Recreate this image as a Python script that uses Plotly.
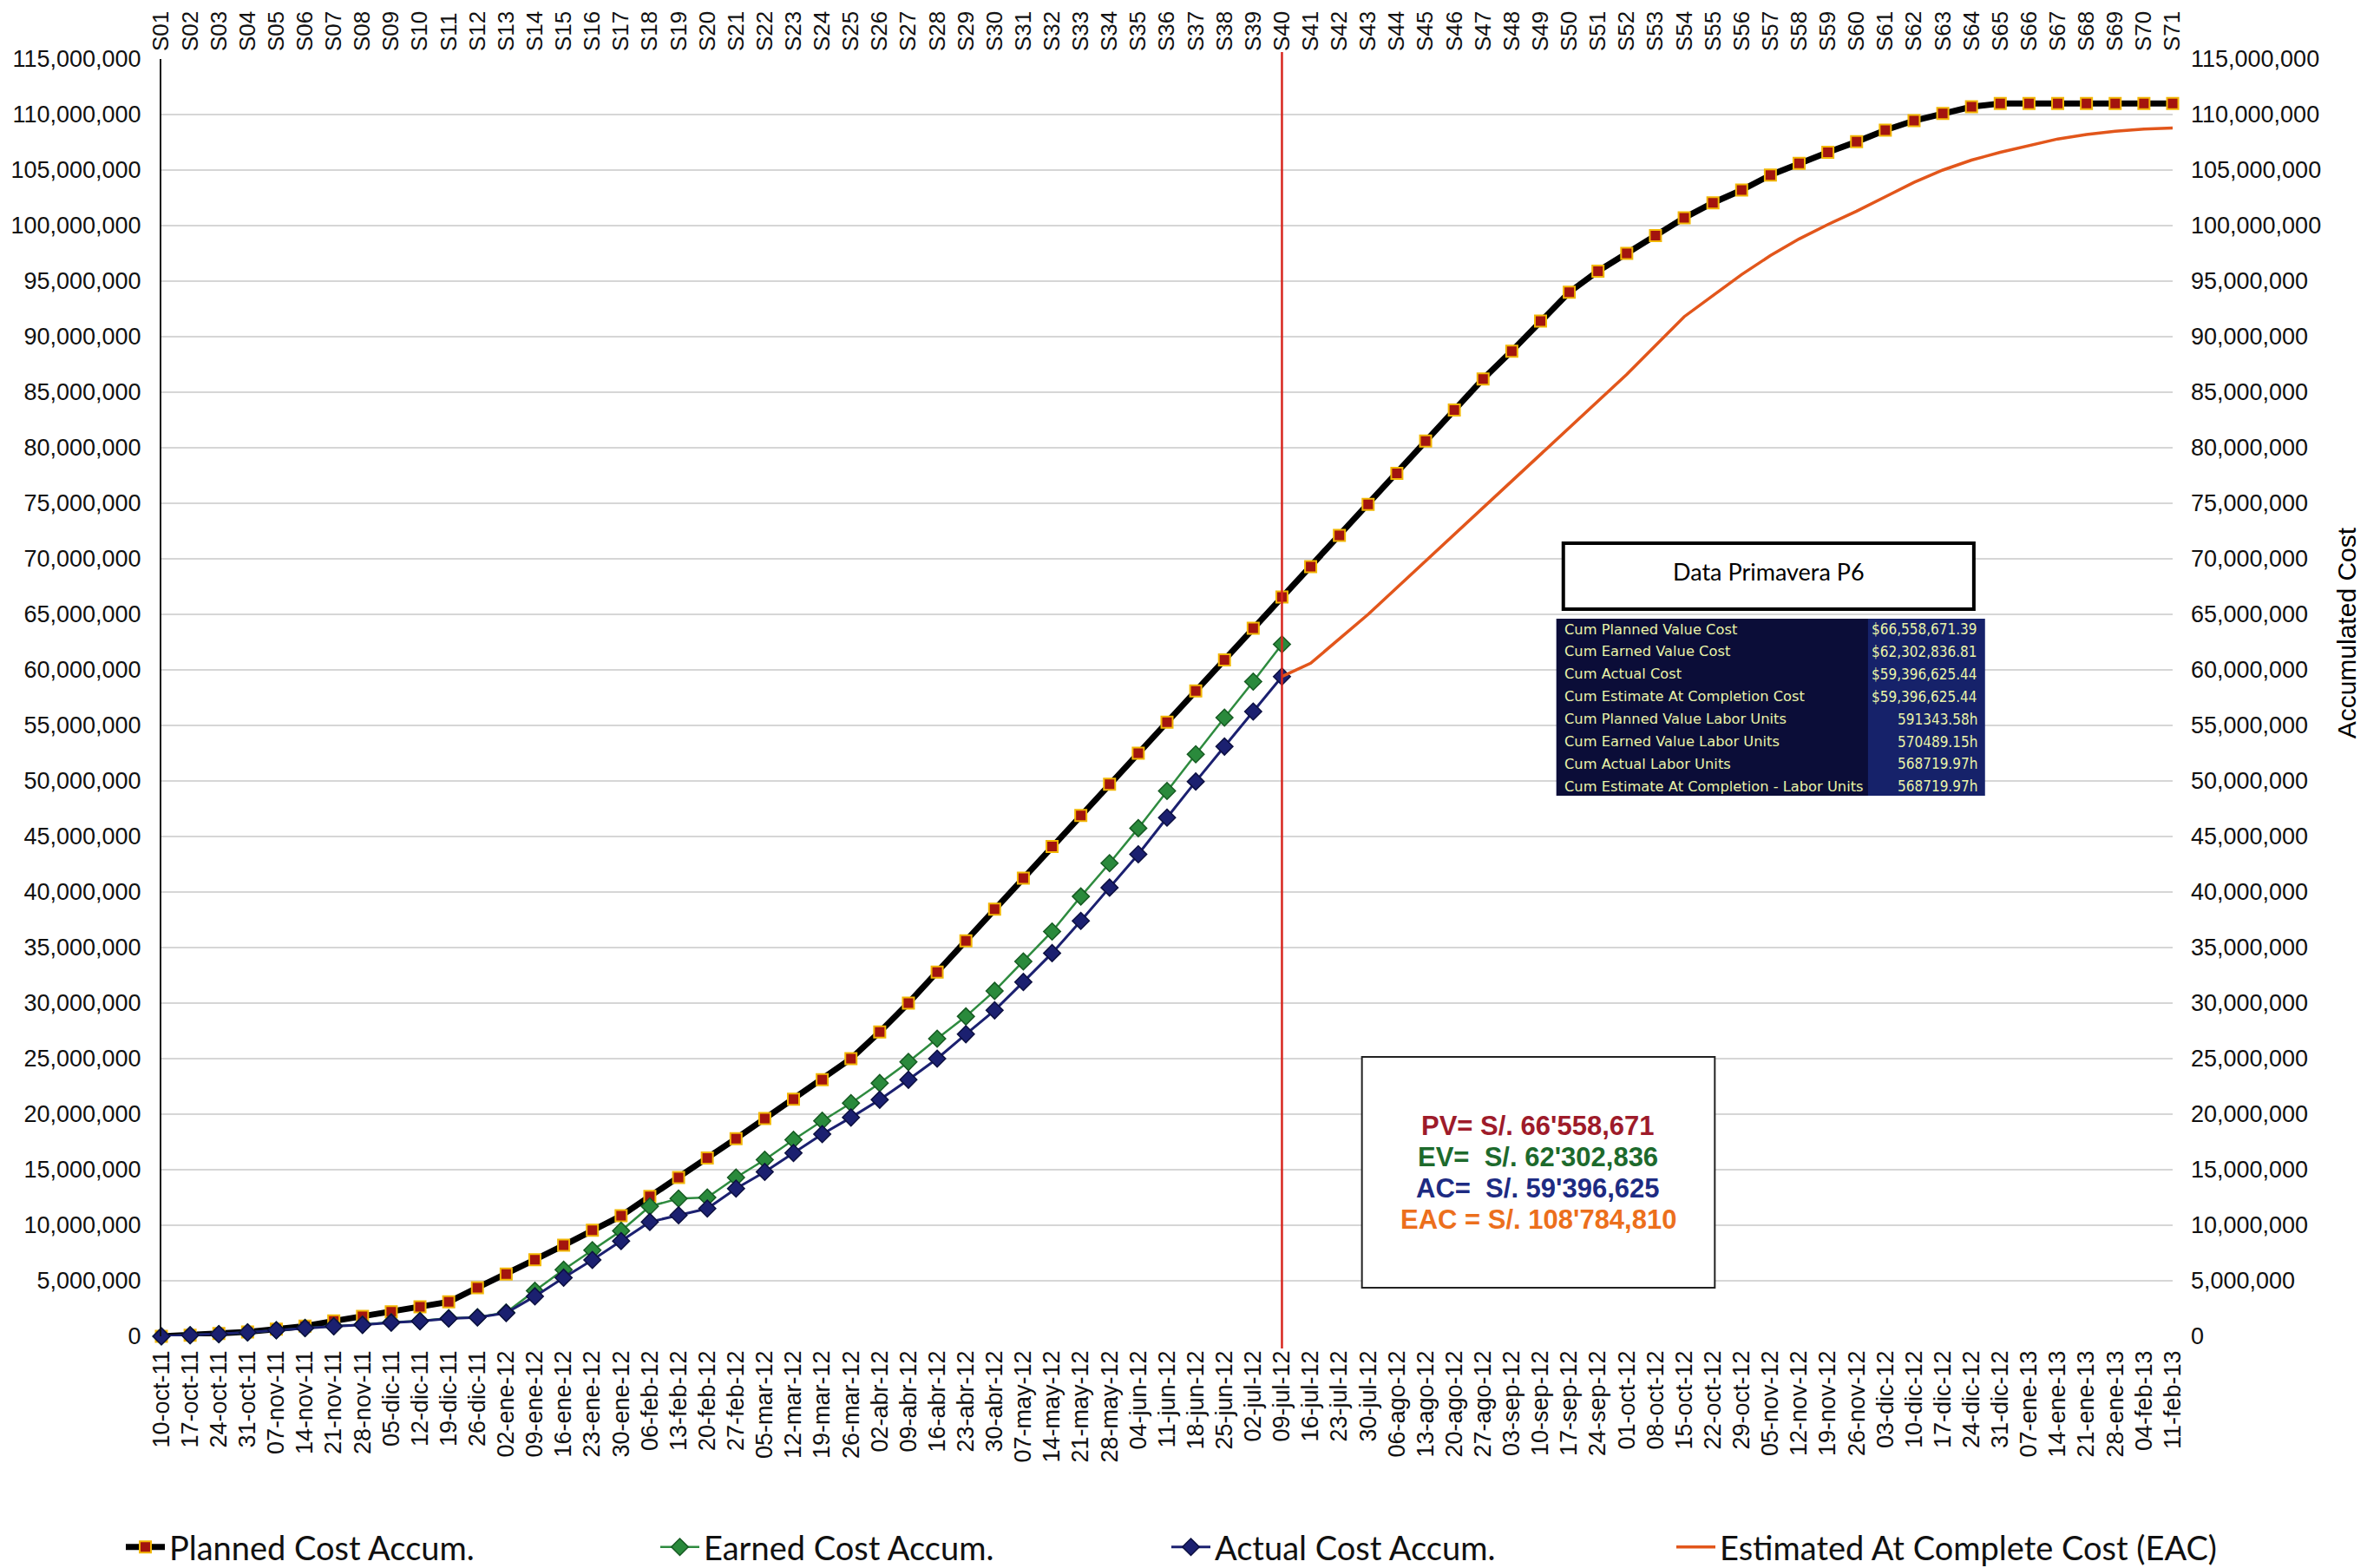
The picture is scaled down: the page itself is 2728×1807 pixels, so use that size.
import plotly.graph_objects as go

# ---------------- data ----------------
dates = ["10-oct-11", "17-oct-11", "24-oct-11", "31-oct-11", "07-nov-11", "14-nov-11", "21-nov-11", "28-nov-11",
         "05-dic-11", "12-dic-11", "19-dic-11", "26-dic-11", "02-ene-12", "09-ene-12", "16-ene-12", "23-ene-12",
         "30-ene-12", "06-feb-12", "13-feb-12", "20-feb-12", "27-feb-12", "05-mar-12", "12-mar-12", "19-mar-12",
         "26-mar-12", "02-abr-12", "09-abr-12", "16-abr-12", "23-abr-12", "30-abr-12", "07-may-12", "14-may-12",
         "21-may-12", "28-may-12", "04-jun-12", "11-jun-12", "18-jun-12", "25-jun-12", "02-jul-12", "09-jul-12",
         "16-jul-12", "23-jul-12", "30-jul-12", "06-ago-12", "13-ago-12", "20-ago-12", "27-ago-12", "03-sep-12",
         "10-sep-12", "17-sep-12", "24-sep-12", "01-oct-12", "08-oct-12", "15-oct-12", "22-oct-12", "29-oct-12",
         "05-nov-12", "12-nov-12", "19-nov-12", "26-nov-12", "03-dic-12", "10-dic-12", "17-dic-12", "24-dic-12",
         "31-dic-12", "07-ene-13", "14-ene-13", "21-ene-13", "28-ene-13", "04-feb-13", "11-feb-13"]
week_labels = [f"S{i:02d}" for i in range(1, len(dates) + 1)]
data_date = "09-jul-12"

# values in millions
planned_m = [0, 0.1, 0.25, 0.4, 0.65, 0.92, 1.38, 1.8, 2.2, 2.65,
             3.1, 4.38, 5.6, 6.9, 8.2, 9.55, 10.85, 12.6, 14.3, 16.05,
             17.8, 19.6, 21.35, 23.1, 25.0, 27.4, 30.0, 32.8, 35.6, 38.45,
             41.25, 44.1, 46.9, 49.7, 52.5, 55.3, 58.1, 60.9, 63.75, 66.56,
             69.3, 72.1, 74.9, 77.7, 80.6, 83.4, 86.2, 88.7, 91.4, 94.0,
             95.9, 97.5, 99.1, 100.7, 102.05, 103.2, 104.55, 105.6, 106.6, 107.55,
             108.6, 109.45, 110.1, 110.7, 111.0, 111.0, 111.0, 111.0, 111.0, 111.0, 111.0]
earned_m = [0, 0.1, 0.2, 0.35, 0.55, 0.75, 0.92, 1.05, 1.26, 1.38,
            1.63, 1.72, 2.15, 4.1, 6.0, 7.75, 9.5, 11.7, 12.4, 12.5,
            14.3, 15.9, 17.7, 19.4, 21.0, 22.8, 24.7, 26.8, 28.8, 31.1,
            33.75, 36.45, 39.6, 42.6, 45.75, 49.1, 52.4, 55.7, 58.95, 62.30]
actual_m = [0, 0.1, 0.2, 0.35, 0.55, 0.74, 0.9, 1.03, 1.24, 1.36,
            1.6, 1.7, 2.1, 3.6, 5.28, 6.87, 8.57, 10.3, 10.9, 11.5,
            13.3, 14.8, 16.5, 18.2, 19.7, 21.3, 23.1, 25.0, 27.2, 29.35,
            31.9, 34.5, 37.4, 40.4, 43.4, 46.7, 49.95, 53.1, 56.25, 59.40]
eac_m = [59.40, 60.6, 62.8, 65.0, 67.4, 69.8, 72.2, 74.6, 77.0, 79.4, 81.8,
         84.2, 86.6, 89.2, 91.8, 93.7, 95.6, 97.3, 98.8, 100.1, 101.3,
         102.6, 103.9, 105.0, 105.9, 106.6, 107.2, 107.8, 108.2, 108.5, 108.7, 108.78]

table_labels = ["Cum Planned Value Cost", "Cum Earned Value Cost", "Cum Actual Cost",
                "Cum Estimate At Completion Cost", "Cum Planned Value Labor Units",
                "Cum Earned Value Labor Units", "Cum Actual Labor Units",
                "Cum Estimate At Completion - Labor Units"]
table_values = ["$66,558,671.39", "$62,302,836.81", "$59,396,625.44", "$59,396,625.44",
                "591343.58h", "570489.15h", "568719.97h", "568719.97h"]

summary_lines = ["PV= S/. 66'558,671", "EV=\u00a0\u00a0S/. 62'302,836",
                 "AC=\u00a0\u00a0S/. 59'396,625", "EAC = S/. 108'784,810"]
summary_colors = ["#9e1b2a", "#1d6a2c", "#1d2b82", "#ec6f1c"]

# ---------------- layout helpers ----------------
W, H = 2728, 1807
L, R, T, B = 167, 2504, 68, 1540


def pxx(x):
    return (x - L) / (R - L)


def pxy(y):
    return (B - y) / (B - T)


M = 1e6
n = len(dates)
idx = list(range(n))
status_i = dates.index(data_date)
planned = [v * M for v in planned_m]
earned = [v * M for v in earned_m] + [None] * (n - len(earned_m))
actual = [v * M for v in actual_m] + [None] * (n - len(actual_m))
eac = [None] * (n - len(eac_m)) + [v * M for v in eac_m]

FONT = "Liberation Sans, Arial, sans-serif"
LEGEND_FONT = "Lato, Open Sans, sans-serif"

fig = go.Figure()
fig.add_trace(go.Scatter(
    x=idx, y=planned, name="Planned Cost Accum.", mode="lines+markers", cliponaxis=False, legend="legend",
    showlegend=True,
    line=dict(color="#000000", width=7),
    marker=dict(symbol="square", size=13, color="#a3140e", line=dict(color="#f2b705", width=2))))
fig.add_trace(go.Scatter(
    x=idx, y=earned, name="Earned Cost Accum.", mode="lines+markers", cliponaxis=False, legend="legend2",
    showlegend=True,
    line=dict(color="#2e8b3f", width=2.5),
    marker=dict(symbol="diamond", size=15, color="#2a8a3c", line=dict(color="#165a22", width=1.5))))
fig.add_trace(go.Scatter(
    x=idx, y=actual, name="Actual Cost Accum.", mode="lines+markers", cliponaxis=False, legend="legend3",
    showlegend=True,
    line=dict(color="#1b2070", width=3),
    marker=dict(symbol="diamond", size=15, color="#1b2070", line=dict(color="#0c0f40", width=1.5))))
fig.add_trace(go.Scatter(
    x=idx, y=eac, name="Estimated At Complete Cost (EAC)", mode="lines", cliponaxis=False, legend="legend4",
    showlegend=True,
    line=dict(color="#e2561b", width=3.5), xaxis="x2", yaxis="y2"))

axis_common = dict(range=[0, n - 1], showgrid=False, zeroline=False, showline=False, ticks="",
                   tickmode="array", tickvals=idx, tickangle=-90)
yaxis_common = dict(range=[0, 115 * M], dtick=5 * M, tick0=0, tickformat=",", zeroline=False,
                    ticks="", tickfont=dict(family=FONT, size=27, color="#111"))

shapes = [
    # status date line
    dict(type="line", xref="x", yref="paper", x0=status_i, x1=status_i, y0=pxy(1554), y1=pxy(60),
         line=dict(color="#d8261e", width=2.5), layer="above"),
    # Data Primavera title box
    dict(type="rect", xref="paper", yref="paper", x0=pxx(1796), x1=pxx(2273), y0=pxy(702), y1=pxy(626),
         line=dict(color="#000", width=4), fillcolor="#ffffff", layer="above"),
    # P6 table backgrounds
    dict(type="rect", xref="paper", yref="paper", x0=pxx(1788), x1=pxx(2286), y0=pxy(917), y1=pxy(713),
         line=dict(width=0), fillcolor="#16226a", layer="above"),
    dict(type="rect", xref="paper", yref="paper", x0=pxx(1788), x1=pxx(2150), y0=pxy(917), y1=pxy(713),
         line=dict(width=0), fillcolor="#0b0d38", layer="above"),
    # summary box
    dict(type="rect", xref="paper", yref="paper", x0=pxx(1562), x1=pxx(1972), y0=pxy(1484), y1=pxy(1218),
         line=dict(color="#222", width=2), fillcolor="#ffffff", layer="above"),
]

annotations = [
    dict(text="Data Primavera P6", xref="paper", yref="paper", x=pxx(2035), y=pxy(658),
         xanchor="center", yanchor="middle",
         showarrow=False, font=dict(family="Lato, Open Sans, sans-serif", size=27, color="#000")),
    dict(text="Accumulated Cost", xref="paper", yref="paper", x=pxx(2706), y=pxy(729), textangle=-90,
         xanchor="center", yanchor="middle",
         showarrow=False, font=dict(family=FONT, size=30, color="#000")),
]
row_y0, row_dy = 725, 25.9
for k, (lab, val) in enumerate(zip(table_labels, table_values)):
    yy = pxy(row_y0 + k * row_dy)
    annotations.append(dict(text=lab, xref="paper", yref="paper", x=pxx(1795), y=yy, xanchor="left",
                            yanchor="middle", showarrow=False,
                            font=dict(family="DejaVu Sans, sans-serif", size=16.3, color="#e9f3a8")))
    annotations.append(dict(text=val, xref="paper", yref="paper", x=pxx(2279), y=yy, xanchor="right",
                            yanchor="middle", showarrow=False,
                            font=dict(family="DejaVu Sans Condensed, DejaVu Sans, sans-serif", size=17,
                                      color="#e9f3a8")))
sum_y0, sum_dy = 1297, 36.3
for k, (txt, col) in enumerate(zip(summary_lines, summary_colors)):
    annotations.append(dict(text=f"<b>{txt}</b>", xref="paper", yref="paper", x=pxx(1767),
                            y=pxy(sum_y0 + k * sum_dy), xanchor="center", yanchor="middle", showarrow=False,
                            font=dict(family=FONT, size=31, color=col)))


def legend_at(xpix):
    return dict(orientation="h", xref="container", yref="container", x=xpix / W, y=1 - 1783 / H,
                xanchor="left", yanchor="middle", itemwidth=45, visible=True,
                font=dict(family=LEGEND_FONT, size=38, color="#111"), bgcolor="rgba(0,0,0,0)")


fig.update_layout(
    width=W, height=H, autosize=False, showlegend=True,
    margin=dict(l=L, r=W - R, t=T, b=H - B, pad=0),
    paper_bgcolor="#ffffff", plot_bgcolor="#ffffff",
    font=dict(family=FONT, color="#111"),
    xaxis=dict(**axis_common, ticktext=dates, ticklabelstandoff=10,
               tickfont=dict(family=FONT, size=27, color="#111")),
    xaxis2=dict(**axis_common, ticktext=week_labels, side="top", overlaying="x", anchor="y2",
                ticklabelstandoff=8, tickfont=dict(family=FONT, size=26, color="#111")),
    yaxis=dict(**yaxis_common, showgrid=True, gridcolor="#d6d6d6", gridwidth=1.6,
               showline=True, linecolor="#111", linewidth=2, ticklabelstandoff=16),
    yaxis2=dict(**yaxis_common, showgrid=False, showline=False, side="right", overlaying="y",
                anchor="x2", ticklabelstandoff=20),
    legend=legend_at(140),
    legend2=legend_at(756),
    legend3=legend_at(1345),
    legend4=legend_at(1927),
    shapes=shapes,
    annotations=annotations,
)

fig.write_html("out.html", config={"displayModeBar": False},
               post_script="document.body.style.margin='0';")
